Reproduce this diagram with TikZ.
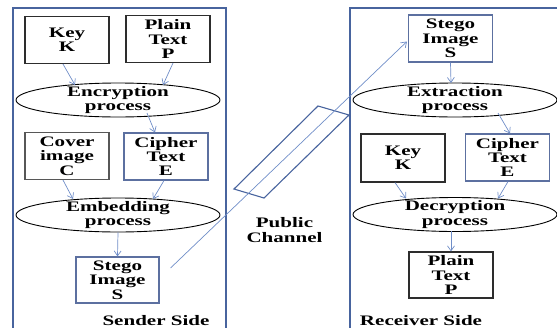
\documentclass[tikz,border=0pt]{standalone}
\usepackage{fontspec}
\setmainfont{Liberation Serif}[FakeStretch=1.45]
\usetikzlibrary{shapes.geometric,arrows.meta,calc}
\definecolor{panelblue}{RGB}{72,100,158}
\definecolor{arrowblue}{RGB}{112,142,200}
\definecolor{boxblue}{RGB}{92,112,160}
\definecolor{boxdark}{RGB}{45,45,45}
\tikzset{
  lbl/.style={font=\fontsize{14.5}{14.3}\selectfont\bfseries, align=center, inner sep=0},
  darkbox/.style={draw=boxdark, line width=1.1pt, rectangle, minimum width=84, minimum height=47, inner sep=0, lbl},
  bluebox/.style={darkbox, draw=boxblue},
  procell/.style={draw=black, line width=0.9pt, ellipse, minimum width=204, minimum height=34, inner sep=0},
  flow/.style={draw=arrowblue, line width=0.7pt, -{Straight Barb[length=5pt,width=7pt]}},
  panel/.style={draw=panelblue, line width=1.3pt},
}
\begin{document}
\begin{tikzpicture}[x=1pt,y=-1pt]
\useasboundingbox (0,0) rectangle (557,327);

% sender and receiver panels
\draw[panel] (13,335) -- (13,8) -- (226,8) -- (226,335);
\draw[panel] (350,335) -- (350,8) -- (565,8);

% sender side
\node[darkbox] (keyS) at (67,40) {Key\\K};
\node[darkbox] (plainS) at (168,39) {Plain\\Text\\P};
\node[procell] (enc) at (118,100) {};
\node[lbl] at (enc) {Encryption\\process};
\node[darkbox, draw=boxdark!80] (cover) at (67,156) {Cover\\image\\C};
\node[bluebox] (cipherS) at (166,156.5) {Cipher\\Text\\E};
\node[procell] (emb) at (118,215) {};
\node[lbl] at (emb) {Embedding\\process};
\node[bluebox, minimum width=83, minimum height=46] (stegoS) at (117.5,280) {Stego\\Image\\S};
\node[lbl, anchor=base] (sender) at (156,325) {Sender Side};

\draw[flow] ($(keyS.south)+(-4,0)$) -- ($(enc.center)+(-43,-15)$);
\draw[flow] ($(plainS.south)+(5,0)$) -- ($(enc.center)+(45,-15)$);
\draw[flow] ($(enc.center)+(29,13)$) -- ($(cipherS.north)+(-11,0)$);
\draw[flow] ($(cover.south)+(-4,0)$) -- ($(emb.center)+(-45,-16)$);
\draw[flow] ($(cipherS.south)+(-2,0)$) -- ($(emb.center)+(35,-16)$);
\draw[flow] (emb.south) -- (stegoS.north);

% public channel
\draw[draw=panelblue, line width=1.1pt] (234,189) -- (318,106) -- (349,115) -- (264,198) -- cycle;
\node[lbl] (pub) at (284.5,230) {Public\\Channel};

% receiver side
\node[bluebox] (stegoR) at (450.5,38.5) {Stego\\Image\\S};
\node[procell] (ext) at (455,100) {};
\node[lbl] at (ext) {Extraction\\process};
\node[darkbox, minimum height=48] (keyR) at (403,158) {Key\\K};
\node[bluebox] (cipherR) at (507.5,157.5) {Cipher\\Text\\E};
\node[procell] (dec) at (455,214.5) {};
\node[lbl] at (dec) {Decryption\\process};
\node[darkbox, minimum height=46] (plainR) at (451,275) {Plain\\Text\\P};
\node[lbl, anchor=base] (receiver) at (421,325) {Receiver Side};

\draw[flow] (stegoR.south) -- ($(ext.center)+(-4,-17)$);
\draw[flow] ($(ext.center)+(43,13)$) -- ($(cipherR.north)+(2.5,0)$);
\draw[flow] ($(keyR.south)+(-8,0)$) -- ($(dec.center)+(-49,-16)$);
\draw[flow] ($(cipherR.south)+(0.5,0)$) -- ($(dec.center)+(43,-16)$);
\draw[flow] ($(dec.center)+(-4,16.5)$) -- (plainR.north);

% transmission of the stego image across the channel
\draw[flow] ($(stegoS.east)+(11,-12)$) -- ($(stegoR.west)+(-1,3)$);
\end{tikzpicture}
\end{document}
